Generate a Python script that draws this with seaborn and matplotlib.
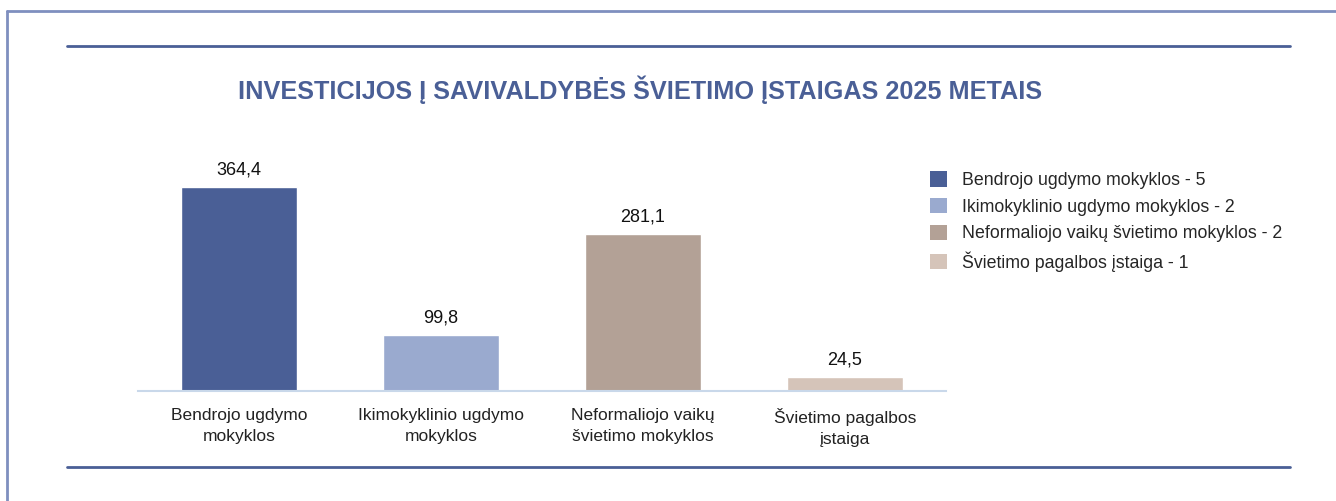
import numpy as np
import pandas as pd
from matplotlib import pyplot as plt
from matplotlib.patches import Patch
from matplotlib.lines import Line2D
import seaborn as sns

# duomenys
kategorijos = ['Bendrojo ugdymo mokyklos', 'Ikimokyklinio ugdymo mokyklos',
               'Neformaliojo vaikų švietimo mokyklos', 'Švietimo pagalbos įstaiga']
ticks = ['Bendrojo ugdymo\nmokyklos', 'Ikimokyklinio ugdymo\nmokyklos',
         'Neformaliojo vaikų\nšvietimo mokyklos', 'Švietimo pagalbos\nįstaiga']
investicijos = [364.4, 99.8, 281.1, 24.5]
istaigu_sk = [5, 2, 2, 1]
spalvos = ['#4a5f96', '#9aaacf', '#b3a196', '#d5c4b9']

sns.set_style('white')
plt.rcParams['font.family'] = ['Liberation Sans', 'DejaVu Sans']

df = pd.DataFrame({'kat': kategorijos, 'val': investicijos})

fig = plt.figure(figsize=(13.36, 5.01), dpi=100)
ax = fig.add_axes([0.1033, 0.2196, 0.6048, 0.447])
sns.barplot(data=df, x='kat', y='val', hue='kat', palette=spalvos, width=0.575,
            saturation=1, legend=False, ax=ax)
ax.set_ylim(0, 400)
ax.set_xlim(-0.5, 3.5)
for s in ['top', 'right', 'left']:
    ax.spines[s].set_visible(False)
ax.spines['bottom'].set_color('#c9d8ea')
ax.spines['bottom'].set_linewidth(1.5)
ax.set_yticks([])
ax.set_xlabel('')
ax.set_ylabel('')
ax.set_xticks(range(4))
ax.set_xticklabels(ticks, fontsize=12.5, color='#222222', linespacing=1.55)
ax.tick_params(axis='x', length=0, pad=12)

# reikšmės virš stulpelių
for i, v in enumerate(investicijos):
    ax.annotate(f'{v:.1f}'.replace('.', ','), xy=(i, v), xytext=(0, 6),
                textcoords='offset points', ha='center', va='bottom',
                fontsize=13, color='#111111')

# legenda
handles = [Patch(facecolor=c, edgecolor='none') for c in spalvos]
labels = [f'{k} - {n}' for k, n in zip(kategorijos, istaigu_sk)]
leg = fig.legend(handles, labels, loc='upper left', bbox_to_anchor=(0.684, 0.69),
                 frameon=False, handlelength=0.95, handleheight=0.95,
                 handletextpad=0.85, labelspacing=0.5,
                 prop={'size': 12.8})

# pavadinimas
fig.text(0.479, 0.82, 'INVESTICIJOS Į SAVIVALDYBĖS ŠVIETIMO ĮSTAIGAS 2025 METAIS',
         ha='center', va='center', fontsize=18.2, fontweight='bold', color='#4a5f96')

# rėmelis ir linijos
fig.add_artist(Line2D([0.005, 1.0], [0.979, 0.979], color='#7f8fbf', lw=2))
fig.add_artist(Line2D([0.0055, 0.0055], [0.0, 0.979], color='#7f8fbf', lw=2))
fig.add_artist(Line2D([0.05, 0.9655], [0.908, 0.908], color='#4a5f96', lw=2))
fig.add_artist(Line2D([0.05, 0.9655], [0.068, 0.068], color='#4a5f96', lw=2))

plt.savefig('out.png', dpi=100)
